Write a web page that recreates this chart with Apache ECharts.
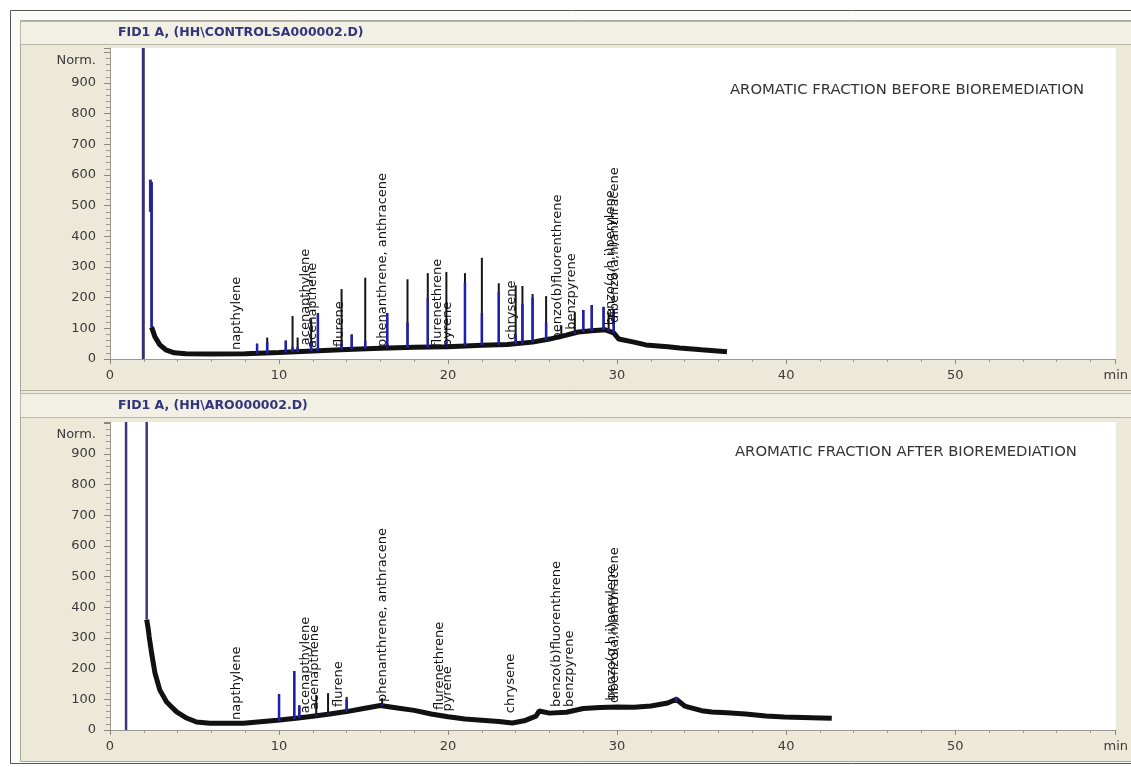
<!DOCTYPE html>
<html><head><meta charset="utf-8">
<script src="https://cdn.jsdelivr.net/npm/echarts@6/dist/echarts.min.js"></script>
<style>html,body{margin:0;padding:0;background:#fff}#c{width:1131px;height:767px}</style>
</head><body><div id="c"></div>
<script>
// ---- tick labels ----
const xTickLabels = ['0','10','20','30','40','50'];
const xUnitLabel = 'min';
const yTickLabels = ['0','100','200','300','400','500','600','700','800','900'];
const yUnitLabel = 'Norm.';

// ---- panel titles ----
const topHeader = 'FID1 A, (HH\\CONTROLSA000002.D)';
const bottomHeader = 'FID1 A, (HH\\ARO000002.D)';
const topTitle = 'AROMATIC FRACTION BEFORE BIOREMEDIATION';
const bottomTitle = 'AROMATIC FRACTION AFTER BIOREMEDIATION';

// ---- top chromatogram (before) : baseline [min, signal] ----
const topBaseline = [[2.46,104],[2.66,72],[2.95,46],[3.3,30],[3.8,20],[4.5,17],[6,16],[8,17],[10,21],[12,26],[14,31],[16,35],[18,38],[20,40],[22,45],[23.5,47],[25,55],[26,65],[27,78],[27.7,88],[28.5,92],[29.3,95],[29.8,85],[30.1,65],[31,55],[31.7,46],[33,40],[33.7,36],[35,30],[36.5,24]];
// off-scale / solvent lines [min, base, top]
const topSolvent = [[1.97,0,1100],[2.39,480,585]];
// peaks [min, base, apex, top of integrated (blue) part]
const topPeaks = [[2.46,104,577,577],[8.7,17,50,50],[9.3,18,70,55],[10.4,21,60,60],[10.8,22,140,40],[11.1,23,70,40],[11.9,25,130,60],[12.3,26,150,150],[13.7,31,228,60],[14.3,32,80,80],[15.1,34,265,60],[16.4,36,150,150],[17.6,37,260,120],[18.8,38,280,200],[19.9,40,284,60],[21.0,43,280,250],[22.0,45,330,150],[23.0,46,247,220],[24.0,48,240,80],[24.4,50,238,180],[25.0,55,212,200],[25.8,62,205,120],[26.7,68,110,60],[27.5,82,153,90],[28.0,88,160,160],[28.5,92,176,176],[29.2,95,170,170],[29.5,93,150,100],[29.8,85,160,160]];
const topLabelNames = ['napthylene','acenapthylene','acenapthene','flurene','phenanthrene, anthracene','flurenethrene','pyrene','chrysene','benzo(b)fluorenthrene','benzpyrene','benzo(g,h,i)perylene','dibenzo(a,h)anthracene'];
const topLabelTimes = [7.48,11.6,12.0,13.6,16.1,19.4,20.0,23.75,26.5,27.3,29.6,29.85];
const topLabelY = [29,45,36,39,39,39,39,62,60,95,110,117];

// ---- bottom chromatogram (after) ----
const bottomBaseline = [[2.17,360],[2.26,330],[2.32,303],[2.46,251],[2.66,186],[2.95,130],[3.35,91],[3.94,59],[4.53,39],[5.12,26],[5.9,22],[7.9,22],[9.9,32],[11,38],[12,45],[13,52],[14,60],[15,70],[16,80],[17,72],[18,64],[19,52],[20,43],[21,36],[22,32],[23,28],[23.8,23],[24.5,30],[25.2,45],[25.4,62],[26,55],[27,58],[28,70],[29,73],[30,75],[31,74],[32,78],[33,88],[33.5,100],[34,78],[35,63],[35.6,59],[36.5,56],[37.6,52],[38.8,46],[39.9,42],[41.5,40],[42.7,38]];
const bottomSolvent = [[0.95,0,1100],[2.17,360,1100]];
const bottomPeaks = [[10.0,30,117,117],[10.9,36,192,192],[11.2,38,80,80],[12.2,45,114,50],[12.9,50,120,55],[14.0,60,108,100],[16.1,80,104,85],[33.5,92,108,108]];
const bottomLabelNames = topLabelNames;
const bottomLabelTimes = [7.48,11.6,12.1,13.5,16.1,19.5,19.95,23.7,26.4,27.2,29.65,29.85];
const bottomLabelY = [33,55,65,75,91,65,60,55,75,75,95,88];

// ---- rendering ----
const FONT = '"DejaVu Sans", sans-serif';
const chart = echarts.init(document.getElementById('c'));

function peakRenderer(black, blue, wBlack, wBlue) {
  return function (params, api) {
    const t = api.value(0), b = api.value(1), h = api.value(2);
    const bl = api.value(3);
    const p0 = api.coord([t, b]), p1 = api.coord([t, h]);
    const children = [{type:'line', shape:{x1:p0[0],y1:p0[1],x2:p1[0],y2:p1[1]}, style:{stroke:black,lineWidth:wBlack}}];
    if (!isNaN(bl) && bl > b) {
      const pb = api.coord([t, bl]);
      children.push({type:'line', shape:{x1:p0[0],y1:p0[1],x2:pb[0],y2:pb[1]}, style:{stroke:blue,lineWidth:wBlue}});
    }
    return {type:'group', children};
  };
}
function labelRenderer(names) {
  return function (params, api) {
    const p = api.coord([api.value(0), api.value(1)]);
    return {type:'text', x:p[0], y:p[1], rotation:Math.PI/2,
      style:{text:names[params.dataIndex], fill:'#111', font:'13px ' + FONT, align:'left', verticalAlign:'middle'}};
  };
}
function zip(a, b) { return a.map((v, i) => [v, b[i]]); }

function xAxisCfg(idx) {
  return {
    gridIndex: idx, type:'value', min:0, max:59.5, interval:10,
    axisLine:{show:true, lineStyle:{color:'#9c9a90', width:1}},
    axisTick:{show:true, length:5, lineStyle:{color:'#8a887e'}},
    minorTick:{show:true, splitNumber:5, length:3, lineStyle:{color:'#9c9a90'}},
    splitLine:{show:false},
    axisLabel:{color:'#3a3a3a', fontSize:13, fontFamily:FONT, margin:10,
      formatter: v => (v > 55 ? xUnitLabel : (xTickLabels[Math.round(v/10)] || ''))}
  };
}
function yAxisCfg(idx, max) {
  return {
    gridIndex: idx, type:'value', min:0, max:max, interval:100,
    axisLine:{show:true, lineStyle:{color:'#9c9a90', width:1}},
    axisTick:{show:true, length:6, lineStyle:{color:'#8a887e'}},
    minorTick:{show:true, splitNumber:5, length:4, lineStyle:{color:'#9c9a90'}},
    splitLine:{show:false},
    axisLabel:{color:'#3a3a3a', fontSize:13, fontFamily:FONT, margin:14,
      formatter: v => (v > 950 ? '' : (yTickLabels[Math.round(v/100)] || ''))}
  };
}
function baseSeries(data, xi) {
  return {type:'line', xAxisIndex:xi, yAxisIndex:xi, data, showSymbol:false, silent:true,
    lineStyle:{color:'#111', width:5}, z:2, animation:false};
}
function peakSeries(data, xi, black, blue, wB, wb) {
  return {type:'custom', xAxisIndex:xi, yAxisIndex:xi, data, clip:true, silent:true, z:3,
    renderItem: peakRenderer(black, blue, wB, wb), animation:false};
}
function labelSeries(names, times, ys, xi) {
  return {type:'custom', xAxisIndex:xi, yAxisIndex:xi, data: zip(times, ys), silent:true, z:4,
    renderItem: labelRenderer(names), animation:false};
}

const option = {
  backgroundColor:'#ffffff',
  animation:false,
  grid:[
    {left:110, top:48, width:1007, height:311, show:true, backgroundColor:'#ffffff', borderWidth:0},
    {left:110, top:422, width:1007, height:308, show:true, backgroundColor:'#ffffff', borderWidth:0}
  ],
  xAxis:[xAxisCfg(0), xAxisCfg(1)],
  yAxis:[yAxisCfg(0, 1014), yAxisCfg(1, 1004)],
  graphic:[
    {type:'rect', z:-30, silent:true, shape:{x:10.5,y:10.5,width:1125,height:753}, style:{fill:'#fbfbf8', stroke:'#555', lineWidth:1}},
    {type:'rect', z:-29, silent:true, shape:{x:20.5,y:20.5,width:1115,height:741}, style:{fill:'#ECE9D8', stroke:'#a9a79b', lineWidth:1}},
    {type:'rect', z:-28, silent:true, shape:{x:20.5,y:21.5,width:1115,height:23}, style:{fill:'#F2F0E5', stroke:'#b9b7aa', lineWidth:1}},
    {type:'rect', z:-28, silent:true, shape:{x:20.5,y:393.5,width:1115,height:24}, style:{fill:'#F2F0E5', stroke:'#b9b7aa', lineWidth:1}},
    {type:'line', z:-27, silent:true, shape:{x1:20,y1:390.5,x2:1131,y2:390.5}, style:{stroke:'#b0aea2', lineWidth:1}},
    {type:'text', silent:true, x:118, y:33, style:{text:topHeader, fill:'#34347c', font:'bold 12.5px ' + FONT, verticalAlign:'middle'}},
    {type:'text', silent:true, x:118, y:406, style:{text:bottomHeader, fill:'#34347c', font:'bold 12.5px ' + FONT, verticalAlign:'middle'}},
    {type:'text', silent:true, x:96, y:61, style:{text:yUnitLabel, fill:'#3a3a3a', font:'13px ' + FONT, align:'right', verticalAlign:'middle'}},
    {type:'text', silent:true, x:96, y:435, style:{text:yUnitLabel, fill:'#3a3a3a', font:'13px ' + FONT, align:'right', verticalAlign:'middle'}},
    {type:'text', silent:true, x:730, y:90, style:{text:topTitle, fill:'#333', font:'14.8px ' + FONT, verticalAlign:'middle'}},
    {type:'text', silent:true, x:735, y:452, style:{text:bottomTitle, fill:'#333', font:'14.8px ' + FONT, verticalAlign:'middle'}}
  ],
  series:[
    baseSeries(topBaseline, 0),
    peakSeries(topSolvent, 0, '#33336e', '#33336e', 3, 3),
    peakSeries(topPeaks, 0, '#151515', '#2020b0', 2, 2.5),
    labelSeries(topLabelNames, topLabelTimes, topLabelY, 0),
    baseSeries(bottomBaseline, 1),
    peakSeries(bottomSolvent, 1, '#3a3a7a', '#3a3a7a', 2.5, 2.5),
    peakSeries(bottomPeaks, 1, '#151515', '#2020b0', 2, 2.5),
    labelSeries(bottomLabelNames, bottomLabelTimes, bottomLabelY, 1)
  ]
};
chart.setOption(option);
</script></body></html>
